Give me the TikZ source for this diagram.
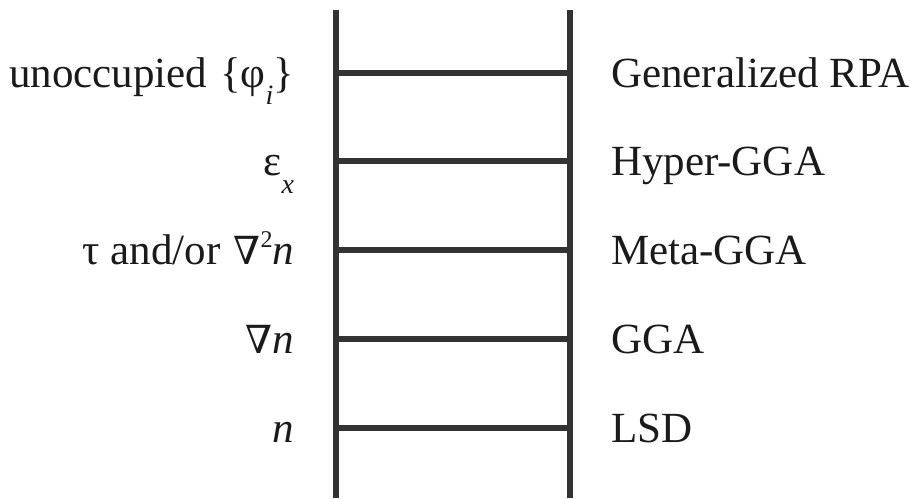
\documentclass[tikz,border=0pt]{standalone}
\usepackage{fontspec}
\setmainfont{Liberation Serif}
\newfontfamily\nablafont[Scale=0.9]{DejaVu Serif}
\usetikzlibrary{positioning}

\definecolor{ladder gray}{HTML}{333333}
\definecolor{label black}{HTML}{1A1A1A}

% lowered italic index, raised small exponent, gradient sign
\newcommand{\lowsub}[1]{\raisebox{-0.4em}{\fontsize{28}{28}\selectfont\textit{#1}}}
\newcommand{\highsup}[1]{\raisebox{0.4em}{\fontsize{24}{24}\selectfont #1}}
\newcommand{\grad}{{\nablafont ∇}}

\begin{document}
\begin{tikzpicture}
  [x=1pt,y=1pt,line width=6pt,
  rail/.style={draw=ladder gray,line cap=butt},
  rung label/.style={inner sep=0pt,text=label black,
  font=\fontsize{43}{50}\selectfont,text height=29pt,text depth=0pt},
  input label/.style={rung label}]

  \useasboundingbox (0,0) rectangle (912,498);

  % rails
  \coordinate (Ltop) at (335.7,488);
  \coordinate (Lbot) at (335.7,0);
  \coordinate (Rtop) at (570,488);
  \coordinate (Rbot) at (570,0);

  % rungs, bottom to top
  \coordinate (L1) at (335.7,70);
  \coordinate (L2) at (335.7,158.8);
  \coordinate (L3) at (335.7,247.7);
  \coordinate (L4) at (335.7,336.5);
  \coordinate (L5) at (335.7,425.3);
  \coordinate (R1) at (570,70);
  \coordinate (R2) at (570,158.8);
  \coordinate (R3) at (570,247.7);
  \coordinate (R4) at (570,336.5);
  \coordinate (R5) at (570,425.3);

  \draw[rail] (Lbot) -- (Ltop);
  \draw[rail] (Rbot) -- (Rtop);
  \draw[rail] (L1) -- (R1);
  \draw[rail] (L2) -- (R2);
  \draw[rail] (L3) -- (R3);
  \draw[rail] (L4) -- (R4);
  \draw[rail] (L5) -- (R5);

  % functional on each rung
  \node[rung label] (lsd) [right=38pt of R1] {LSD};
  \node[rung label] (gga) [right=38pt of R2] {GGA};
  \node[rung label] (meta) [right=38pt of R3] {Meta-GGA};
  \node[rung label] (hyper) [right=38pt of R4] {Hyper-GGA};
  \node[rung label] (rpa) [right=38pt of R5] {Generalized RPA};

  % ingredient added on each rung
  \node[input label] (dens) [left=38.7pt of L1] {\textit{n}};
  \node[input label] (gradn) [left=38.7pt of L2] {\grad\textit{n}};
  \node[input label] (tau) [left=38.7pt of L3]
    {τ and/or\hspace{0.3em}\grad\highsup{2}\textit{n}};
  \node[input label] (exx) [left=38.7pt of L4] {ε\lowsub{x}};
  \node[input label] (orb) [left=38.7pt of L5]
    {unoccupied\hspace{0.3em}\{φ\lowsub{i}\}};
\end{tikzpicture}
\end{document}
